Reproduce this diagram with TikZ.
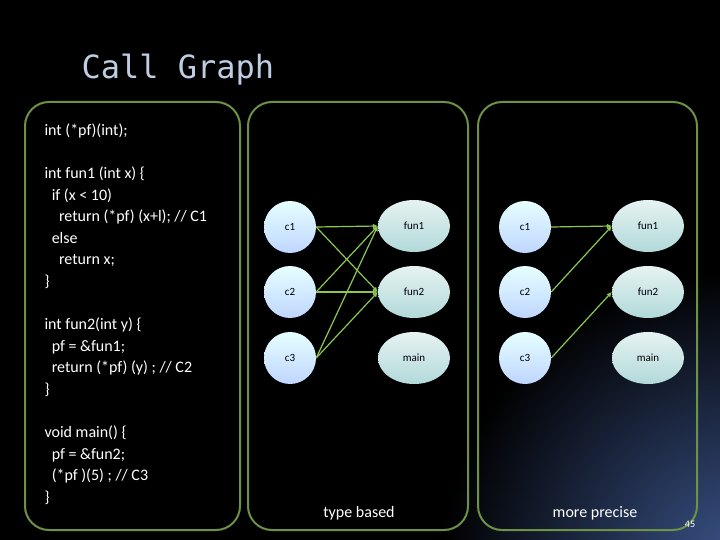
\documentclass[tikz,border=0pt]{standalone}
\usepackage{fontspec}
\setmainfont{Carlito}
\newfontfamily\titlefont{DejaVu Sans Mono}
\begin{document}
\begin{tikzpicture}[x=1pt,y=-1pt,
  panel/.style={draw={rgb,255:red,110;green,145;blue,70}, line width=2pt, rounded corners=24pt},
  cnode/.style={circle, minimum size=52pt, inner sep=0pt, top color=cyan!10!white, bottom color=cyan!35!blue!25!white, font=\fontsize{11}{12}\selectfont},
  fnode/.style={ellipse, minimum width=72pt, minimum height=52pt, inner sep=0pt, top color=teal!10!white, bottom color=teal!30!white, font=\fontsize{11}{12}\selectfont},
  edge/.style={draw={rgb,255:red,140;green,200;blue,80}, line width=1.2pt, -{Latex[length=5pt,width=5pt]}},
  lbl/.style={text=white, font=\fontsize{16}{18}\selectfont}]
\usetikzlibrary{shapes.geometric,arrows.meta}
\useasboundingbox (0,0) rectangle (720,540);
\fill[black] (0,0) rectangle (720,540);
\begin{scope}
\clip (0,0) rectangle (720,540);
\shade[inner color={rgb,255:red,60;green,85;blue,140}, outer color=black] (740,570) circle (300);
\end{scope}
\node[anchor=west, text={rgb,255:red,190;green,205;blue,225}, font=\titlefont\fontsize{32}{36}\selectfont] (title) at (78,70) {Call Graph};
\draw[panel] (25,102) rectangle (240,530);
\draw[panel] (248,102) rectangle (468,530);
\draw[panel] (478,102) rectangle (697,530);
\node[anchor=north west, align=left, text=white, font=\fontsize{16}{21.6}\selectfont] (code) at (41,120) {int (*pf)(int);\\[21.6pt]int fun1 (int x) \{\\\ \ if (x < 10)\\\ \ \ \ return (*pf) (x+l); // C1\\\ \ else\\\ \ \ \ return x;\\\}\\[21.6pt]int fun2(int y) \{\\\ \ pf = \&fun1;\\\ \ return (*pf) (y) ; // C2\\\}\\[21.6pt]void main() \{\\\ \ pf = \&fun2;\\\ \ (*pf )(5) ; // C3\\\}};
\node[cnode] (a1) at (290,227) {c1};
\node[cnode] (a2) at (290,292) {c2};
\node[cnode] (a3) at (290,358) {c3};
\node[fnode] (f1) at (414,226) {fun1};
\node[fnode] (f2) at (414,292) {fun2};
\node[fnode] (f3) at (414,358) {main};
\node[cnode] (b1) at (525,227) {c1};
\node[cnode] (b2) at (525,292) {c2};
\node[cnode] (b3) at (525,358) {c3};
\node[fnode] (g1) at (648,226) {fun1};
\node[fnode] (g2) at (648,292) {fun2};
\node[fnode] (g3) at (648,358) {main};
\draw[edge] (a1.east) -- (f1.west);
\draw[edge] (a1.east) -- (f2.west);
\draw[edge] (a2.east) -- (f1.west);
\draw[edge] (a2.east) -- (f2.west);
\draw[edge] (a3.east) -- (f1.west);
\draw[edge] (a3.east) -- (f2.west);
\draw[edge] (b1.east) -- (g1.west);
\draw[edge] (b2.east) -- (g1.west);
\draw[edge] (b3.east) -- (g2.west);
\node[lbl] (t1) at (359,513) {type based};
\node[lbl] (t2) at (595,513) {more precise};
\node[text=white, font=\fontsize{10}{12}\selectfont] (pg) at (690,524) {45};
\end{tikzpicture}
\end{document}
